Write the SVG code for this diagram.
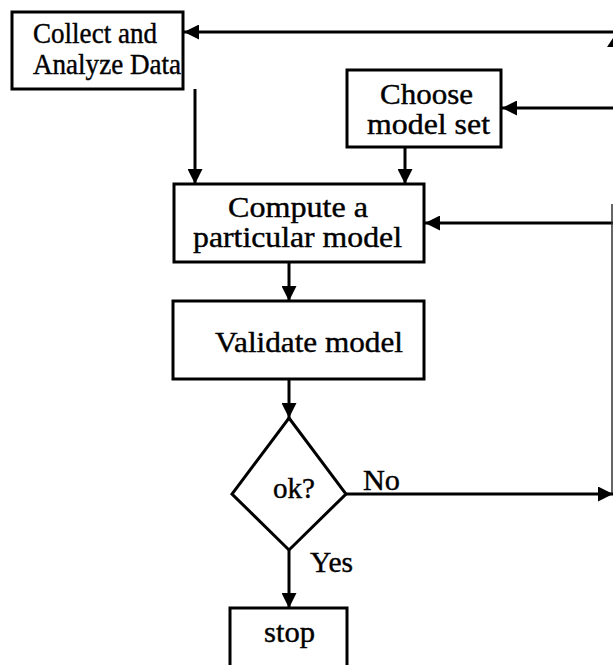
<svg xmlns="http://www.w3.org/2000/svg" width="613" height="665" viewBox="0 0 613 665">
<style>
.box{fill:#fff;stroke:#000;stroke-width:3}
.t{font-family:"Liberation Serif","Times New Roman",serif;font-size:29px;fill:#000;stroke:#000;stroke-width:0.4}
.c{fill:none;stroke:#000;stroke-width:3}
.thin{fill:none;stroke:#333;stroke-width:1.5}
</style>
<defs>
<marker id="ah" markerUnits="userSpaceOnUse" markerWidth="15" markerHeight="15" viewBox="0 0 15 15" refX="15" refY="7.5" orient="auto">
<path d="M0,0 L15,7.5 L0,15 Z" fill="#000"/>
</marker>
</defs>
<rect width="613" height="665" fill="#fff"/>
<g id="connectors">
<line class="c" x1="613" y1="32" x2="184" y2="32" marker-end="url(#ah)"/>
<polygon points="617,32 607,47 627,47" fill="#000"/>
<line class="c" x1="613" y1="108" x2="502" y2="108" marker-end="url(#ah)"/>
<line class="c" x1="613" y1="223" x2="425" y2="223" marker-end="url(#ah)"/>
<line class="thin" x1="612" y1="204" x2="612" y2="494"/>
<line class="c" x1="346" y1="494" x2="613" y2="494" marker-end="url(#ah)"/>
<line class="c" x1="195" y1="89" x2="195" y2="184" marker-end="url(#ah)"/>
<line class="c" x1="405" y1="147" x2="405" y2="184" marker-end="url(#ah)"/>
<line class="c" x1="289" y1="262" x2="289" y2="301" marker-end="url(#ah)"/>
<line class="c" x1="289" y1="379" x2="289" y2="418" marker-end="url(#ah)"/>
<line class="c" x1="289" y1="550" x2="289" y2="608" marker-end="url(#ah)"/>
<text class="t" x="363" y="490" textLength="37" lengthAdjust="spacingAndGlyphs">No</text>
<text class="t" x="310" y="572" textLength="43" lengthAdjust="spacingAndGlyphs">Yes</text>
</g>
<g id="collect">
<rect class="box" x="12" y="12" width="171" height="77"/>
<text class="t" x="33" y="43" textLength="124" lengthAdjust="spacingAndGlyphs">Collect and</text>
<text class="t" x="33" y="74" textLength="148" lengthAdjust="spacingAndGlyphs">Analyze Data</text>
</g>
<g id="choose">
<rect class="box" x="347" y="70" width="154" height="77"/>
<text class="t" x="380" y="104" textLength="93" lengthAdjust="spacingAndGlyphs">Choose</text>
<text class="t" x="367" y="134" textLength="123" lengthAdjust="spacingAndGlyphs">model set</text>
</g>
<g id="compute">
<rect class="box" x="174" y="184" width="250" height="78"/>
<text class="t" x="228" y="217" textLength="140" lengthAdjust="spacingAndGlyphs">Compute a</text>
<text class="t" x="193" y="247" textLength="209" lengthAdjust="spacingAndGlyphs">particular model</text>
</g>
<g id="validate">
<rect class="box" x="173" y="301" width="251" height="78"/>
<text class="t" x="215" y="352" textLength="188" lengthAdjust="spacingAndGlyphs">Validate model</text>
</g>
<g id="ok">
<polygon class="box" points="289,418 346,494 289,550 232,494"/>
<text class="t" x="273" y="498" textLength="42" lengthAdjust="spacingAndGlyphs">ok?</text>
</g>
<g id="stop">
<rect class="box" x="230" y="608" width="117" height="80"/>
<text class="t" x="264" y="642" textLength="51" lengthAdjust="spacingAndGlyphs">stop</text>
</g>
</svg>
